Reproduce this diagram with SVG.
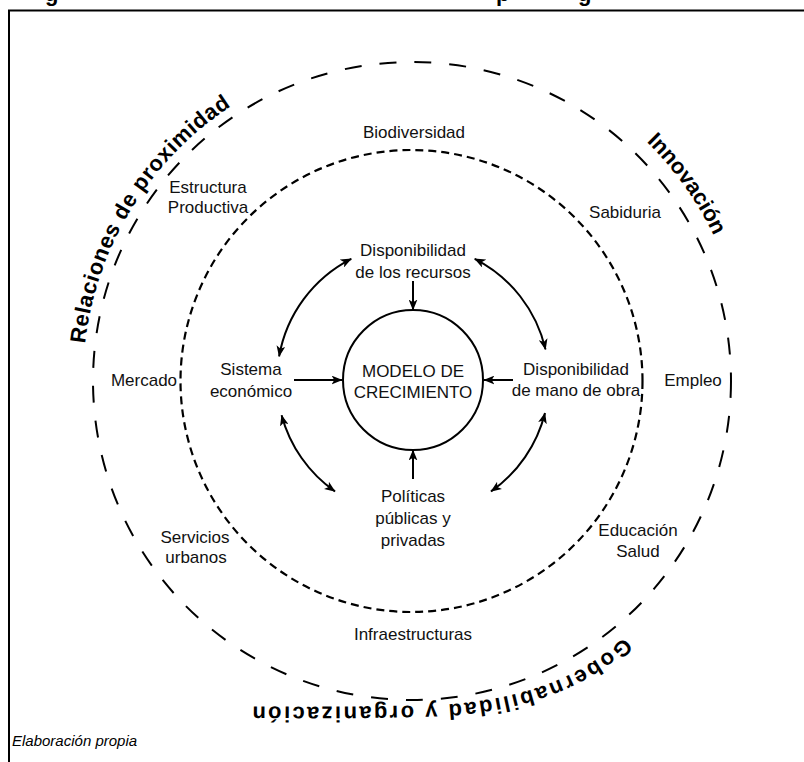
<svg xmlns="http://www.w3.org/2000/svg" width="804" height="762" viewBox="0 0 804 762">
<style>
.lbl{font-family:"Liberation Sans",Arial,sans-serif;font-size:17px;fill:#111;text-anchor:middle}
.big{font-family:"Liberation Sans",Arial,sans-serif;font-size:22px;font-weight:bold;fill:#000}
.note{font-family:"Liberation Sans",Arial,sans-serif;font-size:15px;font-style:italic;fill:#000}
.ring{fill:none;stroke:#000}
.arr{fill:none;stroke:#000;stroke-width:2;marker-end:url(#ah)}
.darr{fill:none;stroke:#000;stroke-width:2;marker-start:url(#ah);marker-end:url(#ah)}
</style>
<defs>
<marker id="ah" viewBox="0 0 10 8" refX="9.5" refY="4" markerWidth="11" markerHeight="9" markerUnits="userSpaceOnUse" orient="auto-start-reverse">
<path d="M0,0 L10,4 L0,8 L2.5,4 z" fill="#000"/>
</marker>
<path id="p-rel" d="M85.1,343.8 A329,329 0 0 1 354.9,57"/>
<path id="p-inn" d="M646.4,141.7 A335,335 0 0 1 741.9,322.8"/>
<path id="p-gob" d="M624,637 C575,684 505,703 430,705 C350,707 300,707 226,706"/>
</defs>
<rect width="804" height="762" fill="#fff"/>
<path d="M9,762 V10.5 H804" fill="none" stroke="#000" stroke-width="2"/>
<g id="title-fragment" class="big">
<text x="45" y="0.5">g</text>
<text x="496" y="0.5">p</text>
<text x="578" y="0.5">g</text>
</g>
<g id="outer-ring">
<circle class="ring" cx="412" cy="381" r="319" stroke-width="2" stroke-dasharray="17 18"/>
<text class="big"><textPath href="#p-rel" textLength="288">Relaciones de proximidad</textPath></text>
<text class="big"><textPath href="#p-inn">Innovación</textPath></text>
<text class="big"><textPath href="#p-gob" textLength="388">Gobernabilidad y organización</textPath></text>
</g>
<g id="inner-ring">
<circle class="ring" cx="411.5" cy="381" r="231" stroke-width="2.2" stroke-dasharray="8 5"/>
</g>
<g id="biodiversidad"><text class="lbl" x="414" y="138">Biodiversidad</text></g>
<g id="estructura"><text class="lbl" x="208" y="193">Estructura</text><text class="lbl" x="208" y="213">Productiva</text></g>
<g id="sabiduria"><text class="lbl" x="625" y="218">Sabiduria</text></g>
<g id="mercado"><text class="lbl" x="144" y="386">Mercado</text></g>
<g id="empleo"><text class="lbl" x="693" y="386">Empleo</text></g>
<g id="servicios"><text class="lbl" x="195" y="543">Servicios</text><text class="lbl" x="196" y="563">urbanos</text></g>
<g id="educacion"><text class="lbl" x="638" y="536">Educación</text><text class="lbl" x="638" y="557">Salud</text></g>
<g id="infraestructuras"><text class="lbl" x="413" y="640">Infraestructuras</text></g>
<g id="modelo">
<circle cx="413" cy="380" r="70" fill="none" stroke="#000" stroke-width="2"/>
<text class="lbl" x="413" y="377">MODELO DE</text>
<text class="lbl" x="413" y="398">CRECIMIENTO</text>
</g>
<g id="recursos"><text class="lbl" x="413" y="256">Disponibilidad</text><text class="lbl" x="413" y="278">de los recursos</text></g>
<g id="sistema"><text class="lbl" x="251" y="375">Sistema</text><text class="lbl" x="251" y="397">económico</text></g>
<g id="manodeobra"><text class="lbl" x="576" y="375">Disponibilidad</text><text class="lbl" x="576" y="396">de mano de obra</text></g>
<g id="politicas"><text class="lbl" x="413" y="502">Políticas</text><text class="lbl" x="413" y="524">públicas y</text><text class="lbl" x="413" y="546">privadas</text></g>
<g id="connectors">
<path class="arr" d="M413,281 L413,310"/>
<path class="arr" d="M413,479 L413,450"/>
<path class="arr" d="M294,380 L342,380"/>
<path class="arr" d="M513,380 L484,380"/>
<path class="darr" d="M351.3,258.8 A136,136 0 0 0 279.1,356.4"/>
<path class="darr" d="M474.7,258.8 A136,136 0 0 1 545.5,349.4"/>
<path class="darr" d="M281.6,415.2 A136,136 0 0 0 335,491.4"/>
<path class="darr" d="M545,413 A136,136 0 0 1 491,491.4"/>
</g>
<g id="source"><text class="note" x="12" y="746">Elaboración propia</text></g>
</svg>
